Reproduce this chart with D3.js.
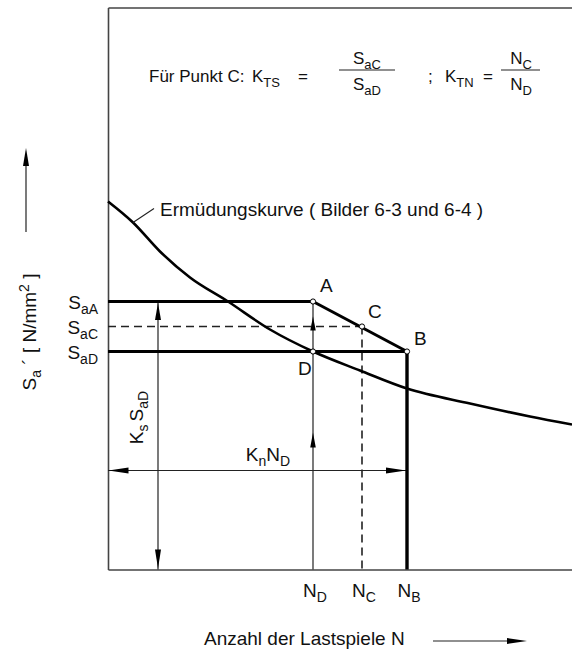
<!DOCTYPE html>
<html>
<head>
<meta charset="utf-8">
<script src="https://cdn.jsdelivr.net/npm/d3@7"></script>
<style>
  html, body { margin: 0; padding: 0; background: #fff; }
  svg { display: block; }
  text { font-family: "Liberation Sans", Arial, Helvetica, sans-serif; fill: #111; }
</style>
</head>
<body>
<svg id="chart" width="572" height="653"></svg>
<script>
// ---- Data (abstract units) ----
// Fatigue curve (Ermüdungskurve): load cycles N vs. stress amplitude Sa
const curveN = [0, 25, 52, 82, 120, 162, 205, 252, 299, 362, 422, 464];
const curveS = [368, 347, 318, 292, 268, 240, 218, 199, 181, 166, 153, 145];

// Characteristic points
const pointNames = ["A", "C", "B", "D"];
const pointN = [205, 254, 299, 205];
const pointS = [268, 243, 218, 218];

// Axis marks (labels with subscripts)
const nTickValues = [205, 254, 299];
const nTickSubs = ["D", "C", "B"];
const sTickValues = [268, 243, 218];
const sTickSubs = ["aA", "aC", "aD"];

// Texts
const titleLeft = "Für Punkt C:";
const curveLabel = "Ermüdungskurve ( Bilder 6-3 und 6-4 )";
const xTitle = "Anzahl der Lastspiele N";

// ---- Layout ----
const x = d3.scaleLinear().domain([0, 464]).range([108, 572]);
const y = d3.scaleLinear().domain([0, 562]).range([569.5, 7.5]);

const svg = d3.select("#chart");
const FS = 19, SUB = 14, SUBDY = 5;

function rich(g, px, py, parts, opts = {}) {
  const t = g.append("text").attr("x", px).attr("y", py)
    .attr("font-size", opts.fs || FS)
    .attr("text-anchor", opts.anchor || "start");
  if (opts.transform) t.attr("transform", opts.transform);
  let shift = 0;
  parts.forEach(p => {
    const target = p.sub ? SUBDY : (p.sup ? -7 : 0);
    const ts = t.append("tspan").attr("dy", target - shift).text(p.t);
    if (p.dx) ts.attr("dx", p.dx);
    if (p.sub || p.sup) ts.attr("font-size", opts.sfs || SUB);
    shift = target;
  });
  return t;
}

function arrowHead(g, tx, ty, dir, len, wid) {
  let pts;
  const h = wid / 2;
  if (dir === "up") pts = [[tx, ty], [tx - h, ty + len], [tx + h, ty + len]];
  if (dir === "down") pts = [[tx, ty], [tx - h, ty - len], [tx + h, ty - len]];
  if (dir === "left") pts = [[tx, ty], [tx + len, ty - h], [tx + len, ty + h]];
  if (dir === "right") pts = [[tx, ty], [tx - len, ty - h], [tx - len, ty + h]];
  g.append("path").attr("d", "M" + pts.map(p => p.join(",")).join("L") + "Z")
    .attr("fill", "#000");
}

// ---- Frame (axes without ticks) ----
const frame = svg.append("g");
frame.append("g").attr("transform", `translate(0,${y(0)})`)
  .call(d3.axisBottom(x).tickValues([]).tickSizeOuter(0))
  .select(".domain").attr("stroke", "#444").attr("stroke-width", 1.6);
frame.append("g").attr("transform", `translate(${x(0)},0)`)
  .call(d3.axisLeft(y).tickValues([]).tickSizeOuter(0))
  .select(".domain").attr("stroke", "#444").attr("stroke-width", 1.6);
frame.append("g").attr("transform", `translate(0,${y(562)})`)
  .call(d3.axisTop(x).tickValues([]).tickSizeOuter(0))
  .select(".domain").attr("stroke", "#444").attr("stroke-width", 1.6);

const g = svg.append("g");
const iA = 0, iC = 1, iB = 2, iD = 3;

// dashed lines at C
g.append("line")
  .attr("x1", x(0)).attr("x2", x(pointN[iC]))
  .attr("y1", y(pointS[iC])).attr("y2", y(pointS[iC]))
  .attr("stroke", "#222").attr("stroke-width", 1.4).attr("stroke-dasharray", "8,5");
g.append("line")
  .attr("x1", x(pointN[iC])).attr("x2", x(pointN[iC]))
  .attr("y1", y(pointS[iC])).attr("y2", y(0))
  .attr("stroke", "#222").attr("stroke-width", 1.6).attr("stroke-dasharray", "8,5");

// thin vertical through D up to A with arrows
g.append("line")
  .attr("x1", x(pointN[iD])).attr("x2", x(pointN[iD]))
  .attr("y1", y(0)).attr("y2", y(pointS[iA]))
  .attr("stroke", "#222").attr("stroke-width", 1.2);
arrowHead(g, x(pointN[iD]), y(pointS[iA]) + 15, "up", 14, 5.5);
arrowHead(g, x(pointN[iD]), y(pointS[iA]) + 131, "up", 15, 5.5);

// Ks SaD dimension arrow
const ksN = 50;
g.append("line")
  .attr("x1", x(ksN)).attr("x2", x(ksN))
  .attr("y1", y(pointS[iA])).attr("y2", y(0))
  .attr("stroke", "#222").attr("stroke-width", 1.2);
arrowHead(g, x(ksN), y(pointS[iA]) + 1.5, "up", 17, 6);
arrowHead(g, x(ksN), y(0) - 1, "down", 19, 6);
rich(g, 0, 0, [{t: "K"}, {t: "s", sub: true}, {t: "S", dx: 3}, {t: "aD", sub: true}],
  {anchor: "middle", transform: `translate(${x(ksN) - 15},${y(pointS[iA]) + 116}) rotate(-90)`});

// Kn ND dimension arrow
const knS = 99;
g.append("line")
  .attr("x1", x(0)).attr("x2", x(pointN[iB]))
  .attr("y1", y(knS)).attr("y2", y(knS))
  .attr("stroke", "#222").attr("stroke-width", 1.2);
arrowHead(g, x(0) + 0.5, y(knS), "left", 20, 6);
arrowHead(g, x(pointN[iB]) - 1, y(knS), "right", 20, 6);
rich(g, 268, y(knS) - 10, [{t: "K"}, {t: "n", sub: true}, {t: "N"}, {t: "D", sub: true}], {anchor: "middle"});

// fatigue curve
const curveData = curveN.map((n, i) => [n, curveS[i]]);
g.append("path").datum(curveData)
  .attr("d", d3.line().x(d => x(d[0])).y(d => y(d[1])).curve(d3.curveMonotoneX))
  .attr("fill", "none").attr("stroke", "#000").attr("stroke-width", 2.6);

// thick lines: SaA level, A-B, SaD level, B vertical
function tline(n1, s1, n2, s2, w) {
  g.append("line").attr("x1", x(n1)).attr("y1", y(s1)).attr("x2", x(n2)).attr("y2", y(s2))
    .attr("stroke", "#000").attr("stroke-width", w || 3);
}
tline(0, pointS[iA], pointN[iA], pointS[iA]);
tline(pointN[iA], pointS[iA], pointN[iB], pointS[iB]);
tline(0, pointS[iD], pointN[iB], pointS[iD]);
tline(pointN[iB], pointS[iB], pointN[iB], 0, 3.4);

// curve label leader
g.append("line").attr("x1", x(25)).attr("y1", y(347)).attr("x2", x(46)).attr("y2", y(361))
  .attr("stroke", "#222").attr("stroke-width", 1.1);
g.append("text").attr("x", x(52)).attr("y", y(354)).attr("font-size", FS).text(curveLabel);

// points
pointNames.forEach((nm, i) => {
  g.append("circle").attr("cx", x(pointN[i])).attr("cy", y(pointS[i])).attr("r", 2.6)
    .attr("fill", "#fff").attr("stroke", "#000").attr("stroke-width", 1);
});
const labelOff = {A: [7, -10], C: [6, -9], B: [7, -7], D: [-15, 23]};
pointNames.forEach((nm, i) => {
  g.append("text").attr("x", x(pointN[i]) + labelOff[nm][0]).attr("y", y(pointS[i]) + labelOff[nm][1])
    .attr("font-size", FS).text(nm);
});

// left tick labels
sTickValues.forEach((v, i) => {
  rich(g, x(0) - 10, y(v) + 7, [{t: "S"}, {t: sTickSubs[i], sub: true}], {anchor: "end"});
});
// bottom tick labels
nTickValues.forEach((v, i) => {
  rich(g, x(v) + 2, y(0) + 27, [{t: "N"}, {t: nTickSubs[i], sub: true}], {anchor: "middle"});
});

// x title + arrow
g.append("text").attr("x", 204).attr("y", 645).attr("font-size", FS).text(xTitle);
g.append("line").attr("x1", 433).attr("x2", 512).attr("y1", 641).attr("y2", 641)
  .attr("stroke", "#222").attr("stroke-width", 1.2);
arrowHead(g, 527, 641, "right", 20, 6);

// y title + arrow
rich(g, 0, 0, [{t: "S"}, {t: "a", sub: true}, {t: " ´   [ N/mm"}, {t: "2", sup: true}, {t: " ]"}],
  {anchor: "middle", transform: `translate(36,332) rotate(-90)`});
g.append("line").attr("x1", 26).attr("x2", 26).attr("y1", 232).attr("y2", 160)
  .attr("stroke", "#222").attr("stroke-width", 1.2);
arrowHead(g, 26, 148, "up", 18, 6);

// formula
const FF = 17, FSUB = 13;
const fy = 82, lineY = 70;
g.append("text").attr("x", 149).attr("y", fy).attr("font-size", FF).text(titleLeft);
rich(g, 252, fy, [{t: "K"}, {t: "TS", sub: true}], {fs: FF, sfs: FSUB});
g.append("text").attr("x", 298).attr("y", fy).attr("font-size", FF).text("=");
g.append("line").attr("x1", 339).attr("x2", 395).attr("y1", lineY).attr("y2", lineY)
  .attr("stroke", "#222").attr("stroke-width", 1.2);
rich(g, 367, lineY - 6, [{t: "S"}, {t: "aC", sub: true}], {anchor: "middle", fs: FF, sfs: FSUB});
rich(g, 367, lineY + 20, [{t: "S"}, {t: "aD", sub: true}], {anchor: "middle", fs: FF, sfs: FSUB});
g.append("text").attr("x", 428).attr("y", fy).attr("font-size", FF).text(";");
rich(g, 445, fy, [{t: "K"}, {t: "TN", sub: true}], {fs: FF, sfs: FSUB});
g.append("text").attr("x", 483).attr("y", fy).attr("font-size", FF).text("=");
g.append("line").attr("x1", 501).attr("x2", 540).attr("y1", lineY).attr("y2", lineY)
  .attr("stroke", "#222").attr("stroke-width", 1.2);
rich(g, 521, lineY - 6, [{t: "N"}, {t: "C", sub: true}], {anchor: "middle", fs: FF, sfs: FSUB});
rich(g, 521, lineY + 20, [{t: "N"}, {t: "D", sub: true}], {anchor: "middle", fs: FF, sfs: FSUB});
</script>
</body>
</html>
